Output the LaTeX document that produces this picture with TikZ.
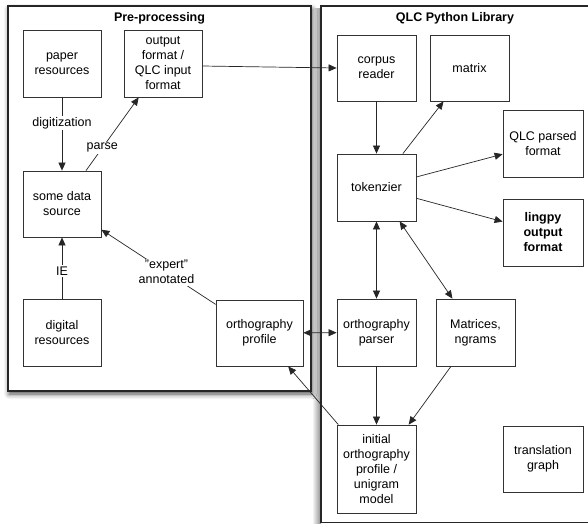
\documentclass[tikz,border=0pt]{standalone}
\usepackage{fontspec}
\setmainfont{Liberation Sans}
\usetikzlibrary{arrows.meta,shadows.blur}

\begin{document}
\begin{tikzpicture}[x=1pt,y=1pt,
  every node/.style={font=\fontsize{12.5}{15}\selectfont},
  box/.style={draw=black!80, line width=0.8pt, fill=white, align=center, inner sep=0pt},
  dims/.style 2 args={minimum width=#1pt, minimum height=#2pt},
  frame/.style={draw=black!85, line width=1.3pt, fill=white, inner sep=0pt},
  tip/.style={Triangle[length=8pt,width=7pt]},
  conn/.style={draw=black!85, line width=0.7pt, -{Triangle[length=8pt,width=7pt]}},
  biconn/.style={draw=black!85, line width=0.7pt, {Triangle[length=8pt,width=7pt]}-{Triangle[length=8pt,width=7pt]}},
  lbl/.style={fill=white, inner sep=1.5pt, align=center},
  title/.style={font=\fontsize{12.5}{15}\selectfont\bfseries}
]
\useasboundingbox (0,0) rectangle (588,-523);
\clip (0,0) rectangle (588,-523);

% shadow strip along the library frame
\shade[left color=white, right color=black!45] (312,-8) rectangle (321,-523);

% containers
\node[frame, dims={303}{385}, blur shadow={shadow xshift=1pt, shadow yshift=-3pt, shadow blur radius=5pt, shadow opacity=70}]
  (pre) at (159.5,-198.5) {};
\node[frame, dims={270}{516.5}] (lib) at (456,-264.2) {};
\node[title] (pretitle) at (159.5,-18) {Pre-processing};
\node[title] (libtitle) at (455,-18) {QLC Python Library};

% pre-processing boxes
\node[box, dims={78}{67}] (paper) at (62,-63.5) {paper\\resources};
\node[box, dims={78}{67}] (outfmt) at (163,-63.5) {output\\format /\\QLC input\\format};
\node[box, dims={78}{66}] (datasrc) at (62,-204) {some data\\source};
\node[box, dims={78}{67}] (digital) at (62,-332.5) {digital\\resources};
\node[box, dims={87}{66}] (orthprof) at (259.5,-333) {orthography\\profile};

% library boxes
\node[box, dims={79}{66}] (corpus) at (376.5,-68) {corpus\\reader};
\node[box, dims={79}{66}] (matrix) at (469.5,-68) {matrix};
\node[box, dims={80}{67}] (qlcparsed) at (543,-143.5) {QLC parsed\\format};
\node[box, dims={79}{67}] (tok) at (376.5,-187.5) {tokenzier};
\node[box, dims={80}{67}, font=\fontsize{12.5}{15}\selectfont\bfseries] (lingpy) at (543,-232.5) {lingpy\\output\\format};
\node[box, dims={79}{67}] (orthparser) at (376.5,-332.5) {orthography\\parser};
\node[box, dims={79}{67}] (ngrams) at (475.5,-332.5) {Matrices,\\ngrams};
\node[box, dims={79}{88}] (initial) at (376.5,-469) {initial\\orthography\\profile /\\unigram\\model};
\node[box, dims={80}{66}] (transl) at (543,-459) {translation\\graph};

% pre-processing connectors
\draw[conn] (paper) -- node[lbl, pos=0.35] {digitization} (datasrc);
\draw[conn] (digital) -- node[lbl, pos=0.45] {IE} (datasrc);
\draw[conn] (datasrc) -- node[lbl, pos=0.31] {parse} (outfmt);
\draw[conn] (orthprof) -- node[lbl, pos=0.43] {"expert"\\annotated} (datasrc);
\draw[conn] ([yshift=-2.5pt]outfmt.east) -- (corpus.west);

% library connectors
\draw[conn] (corpus) -- (tok);
\draw[conn] (tok) -- (matrix);
\draw[conn] (tok) -- (qlcparsed);
\draw[conn] (tok) -- (lingpy);
\draw[biconn] (tok) -- (orthparser);
\draw[biconn] (tok) -- (ngrams);
\draw[biconn] (orthprof) -- (orthparser);
\draw[conn] (orthparser) -- (initial);
\draw[conn] (ngrams) -- (initial);
\draw[conn] (initial) -- (orthprof);
\end{tikzpicture}
\end{document}
